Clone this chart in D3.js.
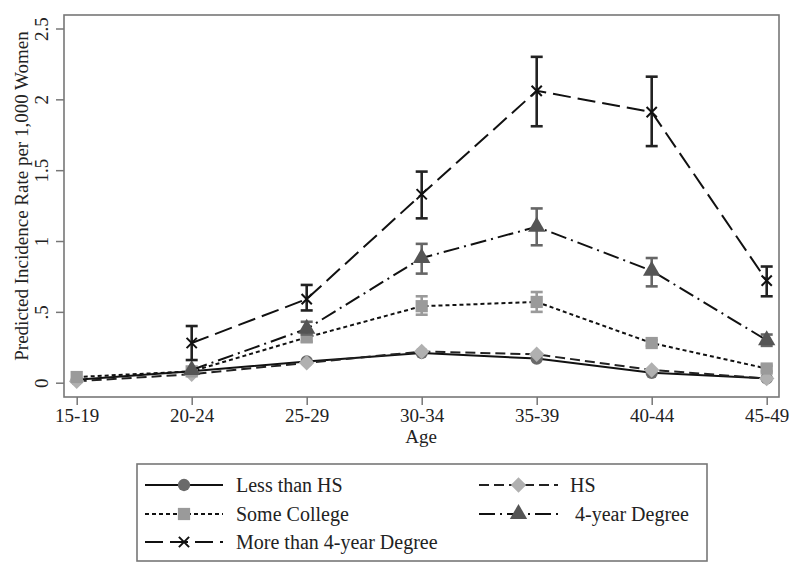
<!DOCTYPE html>
<html>
<head>
<meta charset="utf-8">
<script src="https://cdn.jsdelivr.net/npm/d3@7"></script>
<style>
  body { margin: 0; background: #fff; }
  text { font-family: "Liberation Serif", "Times New Roman", serif; fill: #222; }
</style>
</head>
<body>
<div id="vis"></div>
<script>
// categories
var ages = ["15-19", "20-24", "25-29", "30-34", "35-39", "40-44", "45-49"];
var yTicks = [0, 0.5, 1, 1.5, 2, 2.5];
var yTickLabels = ["0", ".5", "1", "1.5", "2", "2.5"];

// series values (null = not shown)
var lessHS      = [0.02, 0.08, 0.15, 0.21, 0.17, 0.07, 0.03];
var hs          = [0.01, 0.06, 0.14, 0.22, 0.20, 0.09, 0.03];
var someCollege = [0.04, 0.08, 0.32, 0.54, 0.57, 0.28, 0.10];
var someCollegeLo = [null, null, 0.29, 0.48, 0.50, 0.26, 0.08];
var someCollegeHi = [null, null, 0.35, 0.61, 0.64, 0.30, 0.12];
var fourYear    = [null, 0.09, 0.38, 0.88, 1.10, 0.79, 0.30];
var fourYearLo  = [null, null, 0.34, 0.77, 0.97, 0.68, 0.26];
var fourYearHi  = [null, null, 0.43, 0.98, 1.23, 0.88, 0.34];
var moreFour    = [null, 0.28, 0.59, 1.33, 2.06, 1.91, 0.72];
var moreFourLo  = [null, 0.16, 0.51, 1.16, 1.81, 1.67, 0.61];
var moreFourHi  = [null, 0.40, 0.69, 1.49, 2.30, 2.16, 0.82];

var legendLabels = ["Less than HS", "HS", "Some College", " 4-year Degree", "More than 4-year Degree"];

var series = [
  {name: legendLabels[0], values: lessHS, lo: null, hi: null,
   dash: null, line: "#111", sym: "circle", fill: "#6a6a6a", err: null},
  {name: legendLabels[1], values: hs, lo: null, hi: null,
   dash: "10,5", line: "#222", sym: "diamond", fill: "#b0b0b0", err: null},
  {name: legendLabels[2], values: someCollege, lo: someCollegeLo, hi: someCollegeHi,
   dash: "4,3", line: "#111", sym: "square", fill: "#9a9a9a", err: "#9a9a9a"},
  {name: legendLabels[3], values: fourYear, lo: fourYearLo, hi: fourYearHi,
   dash: "16,5,2,5", line: "#111", sym: "triangle", fill: "#555", err: "#666"},
  {name: legendLabels[4], values: moreFour, lo: moreFourLo, hi: moreFourHi,
   dash: "18,7", line: "#111", sym: "x", fill: "#111", err: "#222"}
];

var W = 800, H = 570;
var frame = {left: 64, right: 779, top: 15, bottom: 397};

var svg = d3.select("#vis").append("svg")
    .attr("width", W)
    .attr("height", H);

var x = d3.scalePoint()
    .domain(ages)
    .range([76.7, 766.7]);

var y = d3.scaleLinear()
    .domain([0, 2.5])
    .range([382.7, 28.5]);

function symbolPath(kind) {
  if (kind == "circle") return d3.symbol(d3.symbolCircle, 120)();
  if (kind == "square") return d3.symbol(d3.symbolSquare, 150)();
  if (kind == "diamond") return d3.symbol(d3.symbolSquare, 120)();
  if (kind == "triangle") return d3.symbol(d3.symbolTriangle, 130)();
  return d3.symbol(d3.symbolX, 70)();
}

function drawMarker(g, kind, fill) {
  var p = g.append("path").attr("d", symbolPath(kind));
  if (kind == "x") {
    p.attr("fill", "none").attr("stroke", fill).attr("stroke-width", 2);
  } else {
    p.attr("fill", fill);
    if (kind == "diamond") p.attr("transform", "rotate(45)");
  }
  return p;
}

// frame
svg.append("rect")
  .attr("x", frame.left).attr("y", frame.top)
  .attr("width", frame.right - frame.left)
  .attr("height", frame.bottom - frame.top)
  .attr("fill", "none")
  .attr("stroke", "#777")
  .attr("stroke-width", 1.6);

// y axis
var yAxis = svg.append("g")
  .attr("transform", "translate(" + frame.left + ",0)")
  .call(d3.axisLeft(y).tickValues(yTicks).tickSize(8).tickPadding(6)
        .tickFormat(function(d, i) { return yTickLabels[i]; }));
yAxis.select(".domain").remove();
yAxis.selectAll(".tick line").attr("stroke", "#777").attr("stroke-width", 1.5);
yAxis.selectAll(".tick text")
  .attr("x", null).attr("dy", null)
  .attr("transform", "translate(-16,0) rotate(-90)")
  .attr("text-anchor", "middle")
  .style("font-size", "19px")
  .style("font-family", "Liberation Serif");

// x axis
var xAxis = svg.append("g")
  .attr("transform", "translate(0," + frame.bottom + ")")
  .call(d3.axisBottom(x).tickSize(8).tickPadding(4));
xAxis.select(".domain").remove();
xAxis.selectAll(".tick line").attr("stroke", "#777").attr("stroke-width", 1.5);
xAxis.selectAll(".tick text")
  .style("font-size", "19px")
  .style("font-family", "Liberation Serif");

// axis titles
svg.append("text")
  .attr("transform", "translate(28," + 196 + ") rotate(-90)")
  .attr("text-anchor", "middle")
  .style("font-size", "19px")
  .text("Predicted Incidence Rate per 1,000 Women");

svg.append("text")
  .attr("x", 421).attr("y", 443)
  .attr("text-anchor", "middle")
  .style("font-size", "19px")
  .text("Age");

// lines, error bars, markers
var line = d3.line()
  .defined(function(d) { return d != null; })
  .x(function(d, i) { return x(ages[i]); })
  .y(function(d) { return y(d); });

series.forEach(function(s) {
  var g = svg.append("g");
  g.append("path")
    .attr("d", line(s.values))
    .attr("fill", "none")
    .attr("stroke", s.line)
    .attr("stroke-width", 2)
    .attr("stroke-dasharray", s.dash);

  if (s.lo) {
    ages.forEach(function(a, i) {
      if (s.lo[i] == null) return;
      var cx = x(a), y0 = y(s.lo[i]), y1 = y(s.hi[i]);
      var eb = g.append("g")
        .attr("stroke", s.err).attr("stroke-width", 2.6).attr("fill", "none");
      eb.append("line").attr("x1", cx).attr("x2", cx).attr("y1", y0).attr("y2", y1);
      eb.append("line").attr("x1", cx - 6).attr("x2", cx + 6).attr("y1", y0).attr("y2", y0);
      eb.append("line").attr("x1", cx - 6).attr("x2", cx + 6).attr("y1", y1).attr("y2", y1);
    });
  }

  s.values.forEach(function(v, i) {
    if (v == null) return;
    var m = g.append("g").attr("transform", "translate(" + x(ages[i]) + "," + y(v) + ")");
    drawMarker(m, s.sym, s.fill);
  });
});

// legend
var legend = svg.append("g");
legend.append("rect")
  .attr("x", 137).attr("y", 464)
  .attr("width", 570).attr("height", 97)
  .attr("fill", "none")
  .attr("stroke", "#777")
  .attr("stroke-width", 1.6);

var legRows = [485, 514, 542];
var legCols = [{x0: 145, x1: 223, tx: 236}, {x0: 479, x1: 558, tx: 570}];

series.forEach(function(s, i) {
  var col = legCols[i % 2], ry = legRows[Math.floor(i / 2)];
  var item = legend.append("g");
  item.append("line")
    .attr("x1", col.x0).attr("x2", col.x1)
    .attr("y1", ry).attr("y2", ry)
    .attr("stroke", s.line)
    .attr("stroke-width", 2)
    .attr("stroke-dasharray", s.dash);
  var m = item.append("g").attr("transform", "translate(" + ((col.x0 + col.x1) / 2) + "," + ry + ")");
  drawMarker(m, s.sym, s.fill);
  item.append("text")
    .attr("x", col.tx).attr("y", ry + 7)
    .style("font-size", "20px")
    .style("white-space", "pre")
    .text(s.name);
});
</script>
</body>
</html>
